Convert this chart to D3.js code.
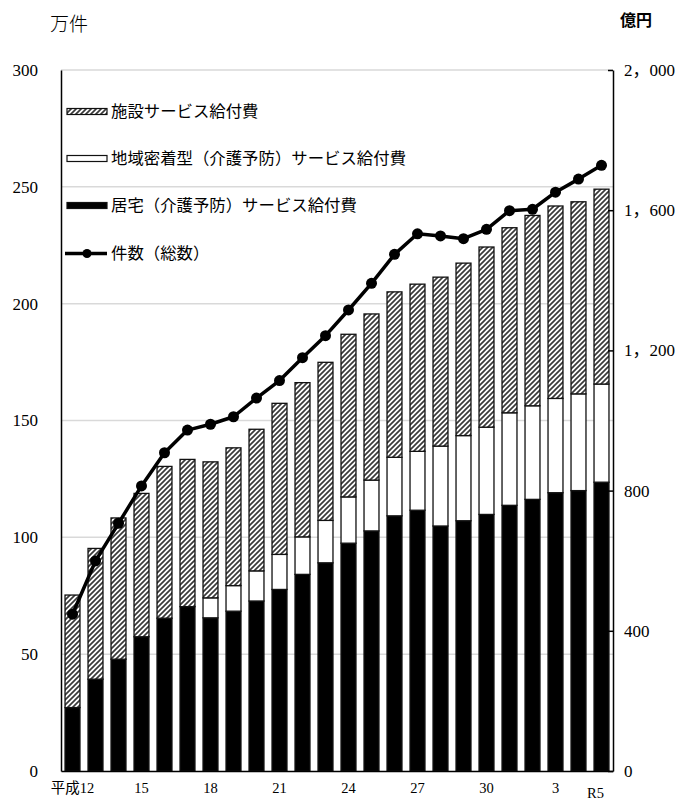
<!DOCTYPE html>
<html><head><meta charset="utf-8">
<script src="https://cdn.jsdelivr.net/npm/d3@7"></script>
<style>body{margin:0;background:#fff}svg{display:block}</style>
</head><body>
<svg id="c" width="682" height="800"></svg>
<script>
const categories = ["H12","H13","H14","H15","H16","H17","H18","H19","H20","H21","H22","H23","H24","H25","H26","H27","H28","H29","H30","R1","R2","R3","R4","R5"];
const tickCats = ["H12","H15","H18","H21","H24","H27","H30","R3","R5"];
const tickLabels = ["平成12","15","18","21","24","27","30","3","R5"];
// 億円
const homeCare = [181,262,319,383,436,469,437,456,485,518,561,594,650,685,728,744,699,714,732,758,775,794,800,824];
const community = [0,0,0,0,0,0,57,73,86,100,107,121,132,145,167,168,228,243,249,264,267,269,276,280];
const facility = [321,373,403,409,433,420,388,393,404,431,440,451,464,474,472,477,482,492,514,528,543,549,548,556];
// 万件
const counts = [67.1,89.9,106.0,122.0,136.2,145.9,148.4,151.6,159.6,167.1,176.9,186.3,197.3,208.7,221.1,229.9,229.0,227.8,231.8,239.8,240.4,247.7,253.3,259.2];
const leftTicks = [0,50,100,150,200,250,300];
const rightTicks = [0,400,800,1200,1600,2000];
const seriesNames = ["施設サービス給付費","地域密着型（介護予防）サービス給付費","居宅（介護予防）サービス給付費","件数（総数）"];

const svg = d3.select("#c");
const m = {l:61, r:69, t:70, b:29};
const W = 682, H = 800;
const numFont = "'Liberation Serif','Noto Sans CJK JP',serif";
const jpFont = "'Liberation Serif','Noto Sans CJK JP',serif";

const x = d3.scaleBand().domain(categories).range([m.l, W - m.r]).paddingInner(0.35).paddingOuter(0.175);
const yL = d3.scaleLinear().domain([0,300]).range([H - m.b, m.t]);
const yR = d3.scaleLinear().domain([0,2000]).range([H - m.b, m.t]);

const defs = svg.append("defs");
const pat = defs.append("pattern").attr("id","hatch").attr("patternUnits","userSpaceOnUse").attr("width",5).attr("height",5);
pat.append("rect").attr("width",5).attr("height",5).attr("fill","#fff");
pat.append("path").attr("d","M-1,1 l2,-2 M0,5 l5,-5 M4,6 l2,-2").attr("stroke","#3a3a3a").attr("stroke-width",1.7);

// grid
svg.append("g").selectAll("line").data(leftTicks.filter(d=>d>0)).join("line")
  .attr("x1", m.l).attr("x2", W - m.r).attr("y1", d=>yL(d)).attr("y2", d=>yL(d))
  .attr("stroke","#d9d9d9").attr("stroke-width",1.5);

// stacked bars
const rows = categories.map((c,i)=>({cat:c, home:homeCare[i], community:community[i], facility:facility[i]}));
const stack = d3.stack().keys(["home","community","facility"])(rows);
const fills = {home:"#000", community:"#fff", facility:"url(#hatch)"};
stack.forEach(layer=>{
  svg.append("g").selectAll("rect").data(layer.filter(d=>d[1]-d[0]>0)).join("rect")
    .attr("x", d=>x(d.data.cat)).attr("width", x.bandwidth())
    .attr("y", d=>yR(d[1])).attr("height", d=>yR(d[0]) - yR(d[1]))
    .attr("fill", fills[layer.key]).attr("stroke","#111").attr("stroke-width",1.3);
});

// line
const line = d3.line().x((d,i)=>x(categories[i]) + x.bandwidth()/2).y(d=>yL(d));
svg.append("path").datum(counts).attr("d", line).attr("fill","none").attr("stroke","#000").attr("stroke-width",3.5).attr("stroke-linejoin","round");
svg.append("g").selectAll("circle").data(counts).join("circle")
  .attr("cx",(d,i)=>x(categories[i]) + x.bandwidth()/2).attr("cy", d=>yL(d)).attr("r",5.5).attr("fill","#000");

// axes
const gL = svg.append("g").attr("transform",`translate(${m.l},0)`)
  .call(d3.axisLeft(yL).tickValues(leftTicks).tickSize(0).tickPadding(23));
gL.select(".domain").attr("stroke","#000").attr("stroke-width",1.5);
gL.selectAll("text").attr("font-family",numFont).attr("font-size",17).attr("fill","#000");

const gR = svg.append("g").attr("transform",`translate(${W - m.r},0)`)
  .call(d3.axisRight(yR).tickValues(rightTicks).tickSizeInner(-5).tickSizeOuter(0).tickPadding(11)
    .tickFormat(d=>d3.format(",")(d).replace(",", "，")));
gR.select(".domain").attr("stroke","#000").attr("stroke-width",1.5);
gR.selectAll(".tick line").attr("stroke","#000").attr("stroke-width",1.5);
gR.selectAll("text").attr("font-family",numFont).attr("font-size",17).attr("fill","#000");

const gB = svg.append("g").attr("transform",`translate(0,${H - m.b})`)
  .call(d3.axisBottom(x).tickValues(tickCats).tickSize(0).tickPadding(12).tickFormat(d=>tickLabels[tickCats.indexOf(d)]));
gB.select(".domain").attr("stroke","#000").attr("stroke-width",1.5);
gB.selectAll("text").attr("font-family",jpFont).attr("font-size",14.5).attr("fill","#000");
gB.selectAll(".tick").filter(d=>d==="R5").select("text").attr("dx",-6).attr("dy","1.05em");

// unit titles
svg.append("text").attr("x",50).attr("y",31).text("万件")
  .attr("font-family","'Noto Sans CJK JP',sans-serif").attr("font-size",19).attr("font-weight",300).attr("fill","#000");
svg.append("text").attr("x",620).attr("y",26).text("億円")
  .attr("font-family","'Noto Sans CJK JP',sans-serif").attr("font-size",16).attr("font-weight",700).attr("fill","#000");

// legend
const lg = svg.append("g");
const lgY = [111.5, 158.5, 205.5, 253.5];
const swX = 67, swW = 40;
lg.append("rect").attr("x",swX).attr("y",lgY[0]-3).attr("width",swW).attr("height",6).attr("fill","url(#hatch)").attr("stroke","#111").attr("stroke-width",1.2);
lg.append("rect").attr("x",swX).attr("y",lgY[1]-3).attr("width",swW).attr("height",6).attr("fill","#fff").attr("stroke","#111").attr("stroke-width",1.2);
lg.append("rect").attr("x",swX).attr("y",lgY[2]-3).attr("width",swW).attr("height",6).attr("fill","#000").attr("stroke","#111").attr("stroke-width",1.2);
lg.append("line").attr("x1",swX-2).attr("x2",swX+swW).attr("y1",lgY[3]).attr("y2",lgY[3]).attr("stroke","#000").attr("stroke-width",3.5);
lg.append("circle").attr("cx",swX+swW/2).attr("cy",lgY[3]).attr("r",4.5).attr("fill","#000");
lg.selectAll("text").data(seriesNames).join("text")
  .attr("x",swX+swW+4).attr("y",(d,i)=>lgY[i]).attr("dy","0.35em").text(d=>d)
  .attr("font-family",jpFont).attr("font-size",16.4).attr("fill","#000");
</script>
</body></html>
